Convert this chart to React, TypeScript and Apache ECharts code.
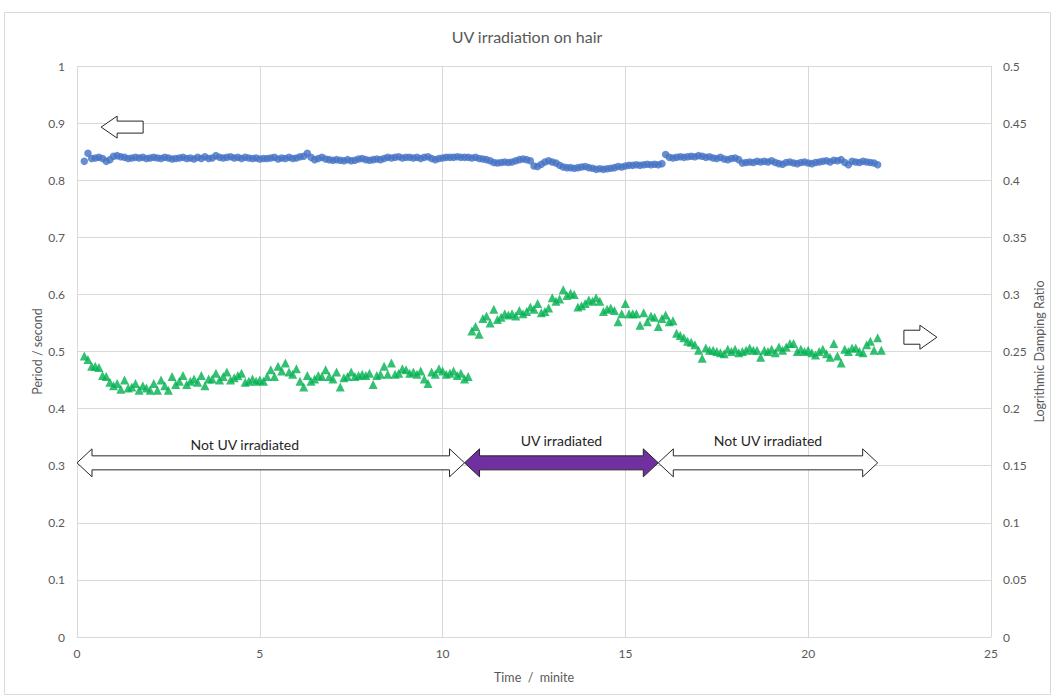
import React, { useEffect, useRef } from "react";
import * as echarts from "echarts";

const TITLE = "UV irradiation on hair";
const X_NAME = "Time  /  minite";
const Y_LEFT_NAME = "Period / second";
const Y_RIGHT_NAME = "Logrithmic Damping Ratio";

// sampling grid (minutes)
const STEP = 0.1;
const PERIOD_START = 0.2;
const DAMP_A_START = 0.2;
const DAMP_B_START = 10.8;

// Period / second (left axis), t = 0.2 .. 21.9
const period: number[] = [
  0.833, 0.847, 0.838, 0.839, 0.840, 0.838, 0.833, 0.836, 0.842, 0.843,
  0.841, 0.840, 0.838, 0.839, 0.840, 0.839, 0.840, 0.838, 0.839, 0.840,
  0.839, 0.838, 0.840, 0.839, 0.837, 0.838, 0.839, 0.840, 0.838, 0.839,
  0.837, 0.840, 0.838, 0.841, 0.838, 0.839, 0.843, 0.840, 0.839, 0.840,
  0.841, 0.839, 0.840, 0.838, 0.840, 0.839, 0.838, 0.839, 0.837, 0.838,
  0.838, 0.839, 0.840, 0.837, 0.839, 0.838, 0.840, 0.838, 0.839, 0.841,
  0.842, 0.847, 0.840, 0.836, 0.838, 0.840, 0.837, 0.836, 0.835, 0.836,
  0.835, 0.834, 0.836, 0.834, 0.835, 0.837, 0.838, 0.836, 0.835, 0.836,
  0.837, 0.836, 0.838, 0.840, 0.839, 0.840, 0.841, 0.839, 0.840, 0.840,
  0.839, 0.840, 0.838, 0.840, 0.841, 0.838, 0.836, 0.838, 0.839, 0.840,
  0.840, 0.840, 0.841, 0.840, 0.840, 0.840, 0.839, 0.840, 0.838, 0.837,
  0.836, 0.834, 0.831, 0.830, 0.831, 0.832, 0.831, 0.832, 0.834, 0.836,
  0.837, 0.836, 0.834, 0.825, 0.824, 0.828, 0.832, 0.834, 0.832, 0.830,
  0.826, 0.823, 0.822, 0.822, 0.821, 0.822, 0.823, 0.824, 0.822, 0.821,
  0.819, 0.820, 0.819, 0.820, 0.821, 0.822, 0.824, 0.823, 0.825, 0.826,
  0.826, 0.827, 0.826, 0.827, 0.828, 0.827, 0.828, 0.827, 0.829, 0.845,
  0.840, 0.839, 0.840, 0.841, 0.840, 0.841, 0.842, 0.841, 0.843, 0.842,
  0.840, 0.841, 0.839, 0.838, 0.840, 0.837, 0.836, 0.838, 0.839, 0.836,
  0.830, 0.831, 0.832, 0.831, 0.833, 0.832, 0.833, 0.832, 0.834, 0.831,
  0.829, 0.828, 0.831, 0.832, 0.830, 0.829, 0.831, 0.832, 0.830, 0.829,
  0.831, 0.832, 0.833, 0.834, 0.832, 0.835, 0.834, 0.836, 0.831, 0.827,
  0.833, 0.832, 0.831, 0.833, 0.832, 0.831, 0.830, 0.827,
];

// Logarithmic damping ratio (right axis), before irradiation t = 0.2 .. 10.7
const dampingBefore: number[] = [
  0.246, 0.243, 0.237, 0.237, 0.236, 0.229, 0.228, 0.223, 0.220, 0.222,
  0.217, 0.225, 0.218, 0.219, 0.222, 0.216, 0.220, 0.218, 0.216, 0.222,
  0.216, 0.225, 0.220, 0.216, 0.228, 0.221, 0.224, 0.229, 0.221, 0.224,
  0.226, 0.223, 0.229, 0.220, 0.226, 0.226, 0.231, 0.225, 0.228, 0.232,
  0.225, 0.227, 0.229, 0.231, 0.223, 0.224, 0.226, 0.224, 0.225, 0.224,
  0.228, 0.234, 0.228, 0.237, 0.233, 0.240, 0.232, 0.230, 0.235, 0.224,
  0.219, 0.229, 0.224, 0.226, 0.229, 0.228, 0.234, 0.228, 0.226, 0.232,
  0.219, 0.227, 0.228, 0.232, 0.228, 0.229, 0.230, 0.229, 0.231, 0.221,
  0.229, 0.230, 0.237, 0.230, 0.240, 0.230, 0.231, 0.235, 0.234, 0.231,
  0.232, 0.230, 0.233, 0.226, 0.222, 0.232, 0.230, 0.235, 0.233, 0.230,
  0.231, 0.233, 0.229, 0.231, 0.226, 0.228,
];

// Logarithmic damping ratio (right axis), t = 10.8 .. 21.9
const dampingAfter: number[] = [
  0.268, 0.272, 0.265, 0.279, 0.281, 0.275, 0.287, 0.278, 0.280, 0.283,
  0.282, 0.283, 0.281, 0.286, 0.283, 0.285, 0.289, 0.287, 0.292, 0.284,
  0.285, 0.288, 0.297, 0.294, 0.296, 0.304, 0.299, 0.301, 0.300, 0.289,
  0.290, 0.292, 0.295, 0.294, 0.297, 0.294, 0.285, 0.287, 0.288, 0.286,
  0.276, 0.283, 0.292, 0.283, 0.283, 0.283, 0.273, 0.284, 0.276, 0.281,
  0.280, 0.272, 0.279, 0.282, 0.276, 0.277, 0.266, 0.264, 0.262, 0.259,
  0.258, 0.256, 0.251, 0.244, 0.253, 0.251, 0.251, 0.250, 0.249, 0.248,
  0.252, 0.250, 0.252, 0.249, 0.250, 0.251, 0.253, 0.251, 0.251, 0.245,
  0.251, 0.250, 0.252, 0.249, 0.254, 0.251, 0.254, 0.257, 0.257, 0.250,
  0.252, 0.250, 0.251, 0.249, 0.247, 0.250, 0.252, 0.248, 0.245, 0.257,
  0.246, 0.240, 0.252, 0.250, 0.253, 0.253, 0.250, 0.249, 0.256, 0.259,
  0.251, 0.262, 0.251,
];

// annotation arrows: [start minute, end minute, label]
const spanStarts = [0, 10.6, 15.9];
const spanEnds = [10.6, 15.9, 21.9];
const spanLabels = ["Not UV irradiated", "UV irradiated", "Not UV irradiated"];
const SPAN_LEVEL = 0.305; // left-axis value of the arrows

const toPairs = (start: number, vals: number[]) =>
  vals.map((v, i) => [Math.round((start + i * STEP) * 100) / 100, v]);

const FONT = "Lato, 'Open Sans', sans-serif";
const TEXT = "#595959";

function doubleArrow(x0: number, x1: number, yc: number, H: number, s: number, h: number) {
  return [
    [x0, yc], [x0 + h, yc - H], [x0 + h, yc - s], [x1 - h, yc - s], [x1 - h, yc - H],
    [x1, yc], [x1 - h, yc + H], [x1 - h, yc + s], [x0 + h, yc + s], [x0 + h, yc + H],
  ];
}

export default function App() {
  const ref = useRef<HTMLDivElement>(null);
  useEffect(() => {
    document.body.style.margin = "0";
    const chart = echarts.init(ref.current!, null, { renderer: "svg" });
    chart.setOption({
      animation: false,
      backgroundColor: "#ffffff",
      title: {
        text: TITLE,
        left: "center",
        top: 23,
        textStyle: { fontFamily: FONT, fontSize: 16, fontWeight: "normal", color: TEXT },
      },
      grid: { left: 77, right: 63, top: 66, bottom: 60 },
      xAxis: {
        type: "value",
        min: 0,
        max: 25,
        interval: 5,
        name: X_NAME,
        nameLocation: "middle",
        nameGap: 34,
        nameMoveOverlap: false,
        nameTextStyle: { fontFamily: FONT, fontSize: 12.5, color: TEXT },
        axisLine: { show: true, lineStyle: { color: "#d9d9d9" } },
        axisTick: { show: false },
        axisLabel: { fontFamily: FONT, fontSize: 12, color: TEXT, margin: 10 },
        splitLine: { show: true, lineStyle: { color: "#d9d9d9" } },
      },
      yAxis: [
        {
          type: "value",
          min: 0,
          max: 1,
          interval: 0.1,
          name: Y_LEFT_NAME,
          nameLocation: "middle",
          nameGap: 33,
          nameMoveOverlap: false,
          nameTextStyle: { fontFamily: FONT, fontSize: 12.5, color: TEXT },
          axisLine: { show: false },
          axisTick: { show: false },
          axisLabel: { fontFamily: FONT, fontSize: 12, color: TEXT, margin: 12 },
          splitLine: { show: true, lineStyle: { color: "#d9d9d9" } },
        },
        {
          type: "value",
          min: 0,
          max: 0.5,
          interval: 0.05,
          name: Y_RIGHT_NAME,
          nameLocation: "middle",
          nameGap: 42,
          nameMoveOverlap: false,
          nameTextStyle: { fontFamily: FONT, fontSize: 12.5, color: TEXT },
          axisLine: { show: false },
          axisTick: { show: false },
          axisLabel: { fontFamily: FONT, fontSize: 12, color: TEXT, margin: 12 },
          splitLine: { show: false },
        },
      ],
      series: [
        {
          type: "scatter",
          yAxisIndex: 0,
          symbol: "circle",
          symbolSize: 7.5,
          itemStyle: { color: "#4472C4" },
          data: toPairs(PERIOD_START, period),
        },
        {
          type: "scatter",
          yAxisIndex: 1,
          symbol: "triangle",
          symbolSize: 9,
          itemStyle: { color: "#00B050" },
          data: toPairs(DAMP_A_START, dampingBefore),
        },
        {
          type: "scatter",
          yAxisIndex: 1,
          symbol: "triangle",
          symbolSize: 9,
          itemStyle: { color: "#00B050" },
          data: toPairs(DAMP_B_START, dampingAfter),
        },
      ],
    });

    const px = (t: number, v: number) =>
      chart.convertToPixel({ xAxisIndex: 0, yAxisIndex: 0 }, [t, v]) as number[];

    const graphics: any[] = [
      {
        type: "rect",
        shape: { x: 4.5, y: 12.5, width: 1046, height: 682 },
        style: { fill: "none", stroke: "#d9d9d9", lineWidth: 1 },
        silent: true,
        z: -1,
      },
    ];
    spanStarts.forEach((s, i) => {
      const a = px(s, SPAN_LEVEL);
      const b = px(spanEnds[i], SPAN_LEVEL);
      graphics.push({
        type: "polygon",
        shape: { points: doubleArrow(a[0], b[0], a[1], 14, 7, 15) },
        style: { fill: i === 1 ? "#7030A0" : "#ffffff", stroke: "#262626", lineWidth: 1 },
        z: 10,
      });
      graphics.push({
        type: "text",
        x: (a[0] + b[0]) / 2 + (i === 0 ? -26 : 0),
        y: a[1] - 22 + (i === 0 ? 4 : 0),
        style: {
          text: spanLabels[i],
          fontFamily: FONT,
          fontSize: 14,
          fill: "#262626",
          align: "center",
          verticalAlign: "middle",
        },
        z: 10,
      });
    });
    // single pointer arrows indicating the axis for each series
    const l = px(0.66, 0.893);
    graphics.push({
      type: "polygon",
      shape: {
        points: [
          [l[0], l[1]], [l[0] + 16, l[1] - 11], [l[0] + 16, l[1] - 6], [l[0] + 42, l[1] - 6],
          [l[0] + 42, l[1] + 6], [l[0] + 16, l[1] + 6], [l[0] + 16, l[1] + 11],
        ],
      },
      style: { fill: "#ffffff", stroke: "#262626", lineWidth: 1 },
      z: 10,
    });
    const r = px(23.52, 0.525);
    graphics.push({
      type: "polygon",
      shape: {
        points: [
          [r[0], r[1]], [r[0] - 17, r[1] - 12], [r[0] - 17, r[1] - 7], [r[0] - 33, r[1] - 7],
          [r[0] - 33, r[1] + 7], [r[0] - 17, r[1] + 7], [r[0] - 17, r[1] + 12],
        ],
      },
      style: { fill: "#ffffff", stroke: "#262626", lineWidth: 1 },
      z: 10,
    });
    chart.setOption({ graphic: graphics });

    return () => chart.dispose();
  }, []);
  return <div ref={ref} style={{ width: 1054, height: 697 }} />;
}
